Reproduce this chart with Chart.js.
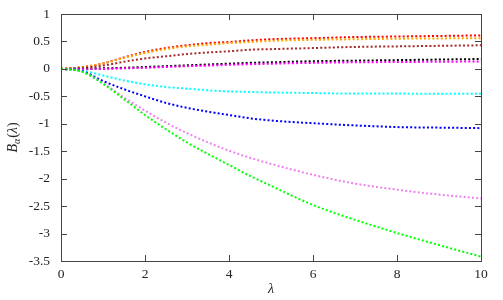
<!DOCTYPE html>
<html>
<head>
<meta charset="utf-8">
<script src="https://cdn.jsdelivr.net/npm/chart.js@4"></script>
<style>
  html, body { margin: 0; padding: 0; background: #fff; }
  #wrap { width: 503px; height: 300px; }
</style>
</head>
<body>
<div id="wrap"><canvas id="chart" width="503" height="300"></canvas></div>
<script>
const lambdas = [0, 0.5, 1, 1.5, 2, 2.5, 3, 3.5, 4, 4.5, 5, 6, 7, 8, 9, 10];

const redVals     = [0, 0.03, 0.10, 0.21, 0.31, 0.38, 0.43, 0.47, 0.49, 0.52, 0.54, 0.56, 0.58, 0.59, 0.60, 0.61];
const orangeVals  = [0, 0.03, 0.10, 0.20, 0.29, 0.36, 0.41, 0.44, 0.47, 0.49, 0.51, 0.53, 0.54, 0.55, 0.555, 0.56];
const brownVals   = [0, 0.02, 0.06, 0.13, 0.19, 0.23, 0.27, 0.30, 0.32, 0.35, 0.36, 0.38, 0.40, 0.41, 0.42, 0.43];
const blackVals   = [0, 0.00, 0.01, 0.02, 0.035, 0.05, 0.065, 0.08, 0.095, 0.11, 0.12, 0.14, 0.15, 0.16, 0.17, 0.18];
const magentaVals = [0, -0.005, 0.0, 0.01, 0.02, 0.035, 0.05, 0.06, 0.075, 0.085, 0.095, 0.11, 0.12, 0.125, 0.13, 0.135];
const cyanVals    = [0, -0.03, -0.12, -0.21, -0.28, -0.33, -0.36, -0.39, -0.41, -0.42, -0.43, -0.44, -0.45, -0.45, -0.455, -0.455];
const blueVals    = [0, -0.04, -0.22, -0.37, -0.50, -0.62, -0.71, -0.78, -0.84, -0.90, -0.94, -0.99, -1.03, -1.06, -1.07, -1.08];
const violetVals  = [0, -0.05, -0.26, -0.52, -0.76, -0.98, -1.17, -1.34, -1.49, -1.62, -1.73, -1.93, -2.09, -2.20, -2.29, -2.36];
const greenVals   = [0, -0.05, -0.27, -0.55, -0.84, -1.10, -1.34, -1.55, -1.75, -1.95, -2.13, -2.48, -2.75, -2.99, -3.21, -3.42];

const xTicks = [0, 2, 4, 6, 8, 10];
const yTicks = [1, 0.5, 0, -0.5, -1, -1.5, -2, -2.5, -3, -3.5];

const FONT = '"Liberation Serif", "DejaVu Serif", serif';

function series(vals, color) {
    return {
        data: lambdas.map((x, i) => ({ x: x, y: vals[i] })),
        borderColor: color,
        borderWidth: 2,
        borderDash: [2, 2.2],
        borderCapStyle: 'butt',
        cubicInterpolationMode: 'monotone',
        pointRadius: 0,
        fill: false
    };
}

// frame, inward ticks on all four sides, axis titles
const framePlugin = {
    id: 'frame',
    afterDraw(chart) {
        const ctx = chart.ctx;
        const a = chart.chartArea;
        const xs = chart.scales.x;
        const ys = chart.scales.y;
        ctx.save();
        ctx.strokeStyle = '#444';
        ctx.lineWidth = 1;
        ctx.strokeRect(Math.round(a.left) + 0.5, Math.round(a.top) + 0.5,
            Math.round(a.right - a.left), Math.round(a.bottom - a.top));
        ctx.beginPath();
        xTicks.forEach(v => {
            const px = Math.round(xs.getPixelForValue(v)) + 0.5;
            ctx.moveTo(px, a.bottom); ctx.lineTo(px, a.bottom - 6);
            ctx.moveTo(px, a.top); ctx.lineTo(px, a.top + 6);
        });
        yTicks.forEach(v => {
            const py = Math.round(ys.getPixelForValue(v)) + 0.5;
            ctx.moveTo(a.left, py); ctx.lineTo(a.left + 6, py);
            ctx.moveTo(a.right, py); ctx.lineTo(a.right - 6, py);
        });
        ctx.stroke();

        ctx.fillStyle = '#222';
        // x title
        ctx.font = 'italic 14px ' + FONT;
        ctx.textAlign = 'center';
        ctx.textBaseline = 'middle';
        ctx.fillText('λ', (a.left + a.right) / 2, 289);

        // y title: B_α(λ)
        ctx.translate(12, (a.top + a.bottom) / 2);
        ctx.rotate(-Math.PI / 2);
        ctx.textAlign = 'left';
        ctx.textBaseline = 'alphabetic';
        ctx.font = 'italic 14px ' + FONT;
        const wB = ctx.measureText('B').width;
        ctx.font = 'italic 10px ' + FONT;
        const wA = ctx.measureText('α').width;
        ctx.font = '14px ' + FONT;
        const wP = ctx.measureText('(').width + ctx.measureText(')').width;
        ctx.font = 'italic 14px ' + FONT;
        const wL = ctx.measureText('λ').width;
        let x0 = -(wB + wA + wP + wL + 1) / 2;
        ctx.fillText('B', x0, 5); x0 += wB;
        ctx.font = 'italic 10px ' + FONT;
        ctx.fillText('α', x0, 8); x0 += wA + 1;
        ctx.font = '14px ' + FONT;
        ctx.fillText('(', x0, 5); x0 += ctx.measureText('(').width;
        ctx.font = 'italic 14px ' + FONT;
        ctx.fillText('λ', x0, 5); x0 += wL;
        ctx.font = '14px ' + FONT;
        ctx.fillText(')', x0, 5);
        ctx.restore();
    }
};

new Chart(document.getElementById('chart'), {
    type: 'line',
    data: {
        datasets: [
            series(greenVals, '#00ff00'),
            series(violetVals, '#ee82ee'),
            series(blueVals, '#0000ff'),
            series(cyanVals, '#00ffff'),
            series(magentaVals, '#ff00ff'),
            series(blackVals, '#000000'),
            series(brownVals, '#a52a2a'),
            series(orangeVals, '#ffa500'),
            series(redVals, '#ff0000')
        ]
    },
    options: {
        responsive: false,
        animation: false,
        layout: { padding: { top: 14, right: 22, left: 0, bottom: 0 } },
        plugins: {
            legend: { display: false },
            tooltip: { enabled: false }
        },
        scales: {
            x: {
                type: 'linear',
                min: 0,
                max: 10,
                afterBuildTicks: s => { s.ticks = xTicks.map(v => ({ value: v })); },
                afterFit: s => { s.height = 39; s.paddingLeft = 0; s.paddingRight = 0; },
                grid: { display: false, drawTicks: false },
                border: { display: false },
                ticks: {
                    padding: 5,
                    color: '#222',
                    font: { family: FONT, size: 13.5 },
                    maxRotation: 0,
                    callback: v => String(v)
                }
            },
            y: {
                type: 'linear',
                min: -3.5,
                max: 1,
                afterBuildTicks: s => { s.ticks = yTicks.map(v => ({ value: v })); },
                afterFit: s => { s.width = 61; s.paddingTop = 0; s.paddingBottom = 0; },
                grid: { display: false, drawTicks: false },
                border: { display: false },
                ticks: {
                    padding: 11,
                    color: '#222',
                    font: { family: FONT, size: 13.5 },
                    callback: v => String(v)
                }
            }
        }
    },
    plugins: [framePlugin]
});
</script>
</body>
</html>
